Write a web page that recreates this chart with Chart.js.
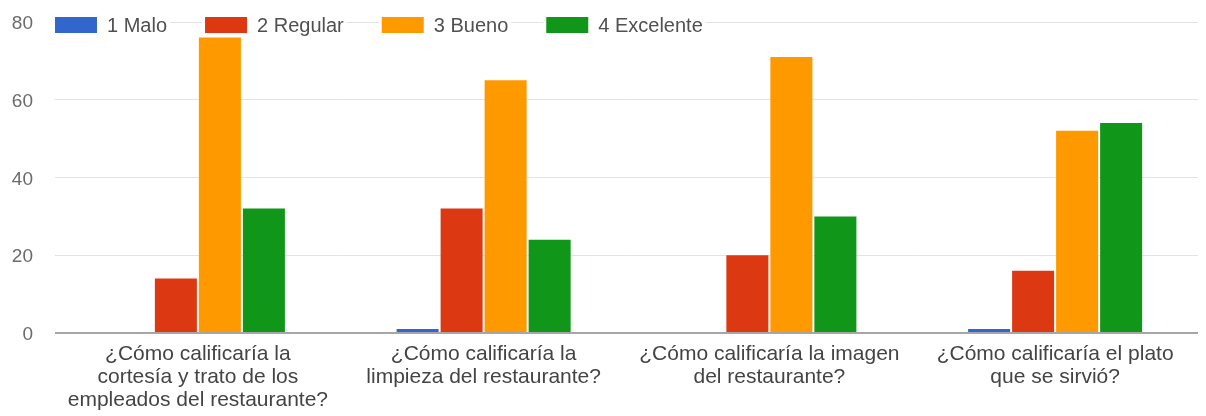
<!DOCTYPE html>
<html>
<head>
<meta charset="utf-8">
<script src="https://cdn.jsdelivr.net/npm/chart.js@4/dist/chart.umd.min.js"></script>
<style>
    body { margin: 0; background: #fff; }
    #wrap { width: 1206px; height: 416px; position: relative; }
</style>
</head>
<body>
<div id="wrap"><canvas id="ratingsChart"></canvas></div>
<script>
// Preguntas de la encuesta (cada una partida en líneas)
const categories = [
    ['¿Cómo calificaría la', 'cortesía y trato de los', 'empleados del restaurante?'],
    ['¿Cómo calificaría la', 'limpieza del restaurante?'],
    ['¿Cómo calificaría la imagen', 'del restaurante?'],
    ['¿Cómo calificaría el plato', 'que se sirvió?']
];

// Número de respuestas por calificación
const malo = [0, 1, 0, 1];
const regular = [14, 32, 20, 16];
const bueno = [76, 65, 71, 52];
const excelente = [32, 24, 30, 54];

const seriesLabels = ['1 Malo', '2 Regular', '3 Bueno', '4 Excelente'];
const seriesColors = ['#3366cc', '#dc3912', '#ff9900', '#109618'];
const yTicks = [0, 20, 40, 60, 80];

const FONT = '"Liberation Sans", Arial, sans-serif';

// Leyenda dibujada encima del área del gráfico, con fondo blanco
const topLegend = {
    id: 'topLegend',
    afterDraw(chart) {
        const ctx = chart.ctx;
        const area = chart.chartArea;
        let x = area.left;
        const y = 25;
        ctx.save();
        ctx.font = '20px ' + FONT;
        ctx.textBaseline = 'middle';
        chart.data.datasets.forEach(ds => {
            const w = ctx.measureText(ds.label).width;
            ctx.fillStyle = '#fff';
            ctx.fillRect(x - 3, y - 11, 52 + w + 6, 22);
            ctx.fillStyle = ds.backgroundColor;
            ctx.fillRect(x, y - 8, 42, 16);
            ctx.fillStyle = '#505050';
            ctx.fillText(ds.label, x + 52, y + 1);
            x += 52 + w + 38;
        });
        ctx.restore();
    }
};

const ctx = document.getElementById('ratingsChart').getContext('2d');
new Chart(ctx, {
    type: 'bar',
    data: {
        labels: categories,
        datasets: [malo, regular, bueno, excelente].map((values, i) => ({
            label: seriesLabels[i],
            data: values,
            backgroundColor: seriesColors[i],
            borderWidth: 0,
            barPercentage: 0.955,
            categoryPercentage: 0.616
        }))
    },
    options: {
        responsive: true,
        maintainAspectRatio: false,
        animation: false,
        layout: { padding: { top: 22, right: 8, bottom: 0, left: 12 } },
        plugins: {
            legend: { display: false },
            tooltip: { enabled: false }
        },
        scales: {
            x: {
                afterFit: scale => { scale.height = 83; },
                grid: { display: false, drawTicks: false },
                border: { display: false },
                ticks: {
                    color: '#444',
                    font: { family: FONT, size: 21, lineHeight: '23px' },
                    padding: 10,
                    maxRotation: 0,
                    autoSkip: false
                }
            },
            y: {
                min: 0,
                max: 80,
                afterFit: scale => {
                    // ancho fijo y sin margen extra arriba/abajo por las etiquetas
                    scale.width = 43;
                    scale.paddingTop = 0;
                    scale.paddingBottom = 0;
                },
                afterBuildTicks: scale => {
                    scale.ticks = yTicks.map(v => ({ value: v }));
                },
                border: { display: false },
                grid: {
                    drawTicks: false,
                    color: c => c.tick && c.tick.value === 0 ? '#a6a6a6' : '#e3e3e3',
                    lineWidth: c => c.tick && c.tick.value === 0 ? 2 : 1
                },
                ticks: {
                    color: '#6b6b6b',
                    font: { family: FONT, size: 19 },
                    padding: 22,
                    labelOffset: 2
                }
            }
        }
    },
    plugins: [topLegend]
});
</script>
</body>
</html>
